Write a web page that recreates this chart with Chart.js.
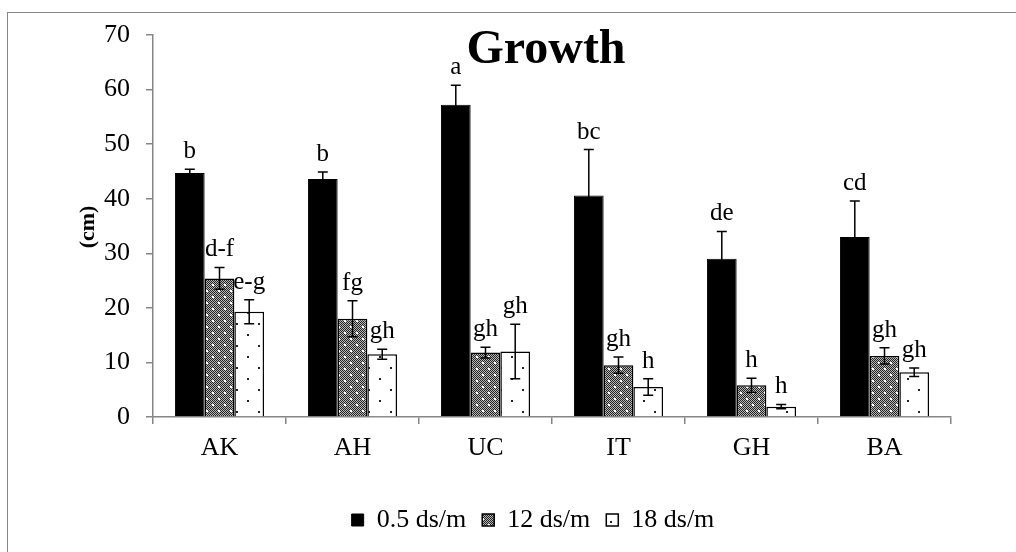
<!DOCTYPE html>
<html><head><meta charset="utf-8">
<script src="https://cdn.jsdelivr.net/npm/chart.js@4.4.1/dist/chart.umd.min.js"></script>
<style>
html,body{margin:0;padding:0;background:#fff;overflow:hidden}
#wrap{position:relative;width:1016px;height:552px;overflow:hidden}
#frame{position:absolute;left:7px;top:12px;width:1030px;height:560px;border:1.5px solid #878787;box-sizing:border-box;pointer-events:none}
canvas{position:absolute;left:0;top:0}
</style></head><body>
<div id="wrap"><canvas id="c" width="1016" height="552"></canvas><div id="frame"></div></div>
<script>
const categories = ['AK','AH','UC','IT','GH','BA'];
const seriesNames = ['0.5 ds/m','12 ds/m','18 ds/m'];
const low = [44.7, 43.6, 57.2, 40.6, 29.0, 33.0];
const mid = [25.4, 18.0, 11.8, 9.5, 5.8, 11.2];
const high = [19.3, 11.5, 12.0, 5.5, 1.9, 8.2];
const lowErr = [0.7, 1.3, 3.6, 8.4, 5.0, 6.6];
const midErr = [2.0, 3.3, 1.0, 1.5, 1.3, 1.5];
const highErr = [2.2, 0.9, 5.0, 1.5, 0.4, 0.8];
const lowLetters = ['b','b','a','bc','de','cd'];
const midLetters = ['d-f','fg','gh','gh','h','gh'];
const highLetters = ['e-g','gh','gh','h','h','gh'];
const yTicks = [0,10,20,30,40,50,60,70];
const titleText = 'Growth';
const yTitle = '(cm)';

const SERIF = '"Liberation Serif","Times New Roman",Times,serif';
const AXIS = '#868686';

function grayPattern(){
  const c = document.createElement('canvas'); c.width = 12; c.height = 12;
  const g = c.getContext('2d');
  for (let y = 0; y < 12; y++) for (let x = 0; x < 12; x++) {
    g.fillStyle = ((x + y) % 2 === 0) ? '#222222' : '#b8b8b8';
    g.fillRect(x, y, 1, 1);
  }
  g.fillStyle = '#ffffff';
  g.fillRect(2, 2, 2, 2); g.fillRect(8, 8, 2, 2);
  return document.getElementById('c').getContext('2d').createPattern(c, 'repeat');
}
function dotPattern(){
  const c = document.createElement('canvas'); c.width = 22; c.height = 22;
  const g = c.getContext('2d');
  g.fillStyle = '#ffffff'; g.fillRect(0, 0, 22, 22);
  g.fillStyle = '#222222';
  g.fillRect(5, 4, 2, 2); g.fillRect(16, 15, 2, 2);
  return document.getElementById('c').getContext('2d').createPattern(c, 'repeat');
}

const errs = [lowErr, midErr, highErr];
const letters = [lowLetters, midLetters, highLetters];

const errorPlugin = {
  id: 'errs',
  afterLayout(chart) {
    const lg = chart.legend;
    if (lg) { lg.left -= 19; lg.right -= 19; lg.top += 23; lg.bottom += 23; }
  },
  afterDatasetsDraw(chart) {
    const ctx = chart.ctx, ys = chart.scales.y;
    ctx.save();
    chart.data.datasets.forEach((ds, i) => {
      const meta = chart.getDatasetMeta(i);
      meta.data.forEach((bar, j) => {
        const v = ds.data[j], e = errs[i][j];
        const yt = ys.getPixelForValue(v + e), yb = ys.getPixelForValue(Math.max(0, v - e));
        ctx.strokeStyle = '#000'; ctx.lineWidth = 1.5;
        ctx.beginPath();
        ctx.moveTo(bar.x, yt); ctx.lineTo(bar.x, yb);
        ctx.moveTo(bar.x - 5, yt); ctx.lineTo(bar.x + 5, yt);
        ctx.moveTo(bar.x - 5, yb); ctx.lineTo(bar.x + 5, yb);
        ctx.stroke();
        ctx.fillStyle = '#000';
        ctx.font = '25px ' + SERIF;
        ctx.textAlign = 'center'; ctx.textBaseline = 'alphabetic';
        ctx.fillText(letters[i][j], bar.x, yt - 11);
      });
    });
    // title
    ctx.font = 'bold 48px ' + SERIF;
    ctx.textAlign = 'center'; ctx.textBaseline = 'alphabetic';
    ctx.fillText(titleText, 546, 63);
    // y title
    ctx.translate(88, 227);
    ctx.rotate(-Math.PI / 2);
    ctx.font = 'bold 22px ' + SERIF;
    ctx.textBaseline = 'middle';
    ctx.fillText(yTitle, 0, 0);
    ctx.restore();
  }
};

new Chart(document.getElementById('c'), {
  type: 'bar',
  data: {
    labels: categories,
    datasets: [
      { label: seriesNames[0], data: low, backgroundColor: '#000', borderColor: '#000', borderWidth: 1 },
      { label: seriesNames[1], data: mid, backgroundColor: grayPattern(), borderColor: '#000', borderWidth: 1.5 },
      { label: seriesNames[2], data: high, backgroundColor: dotPattern(), borderColor: '#000', borderWidth: 1.5 }
    ]
  },
  options: {
    responsive: false,
    animation: false,
    devicePixelRatio: 1,
    layout: { padding: { left: 0, right: 65, top: 35, bottom: 32 } },
    datasets: { bar: { categoryPercentage: 0.67, barPercentage: 1.0 } },
    scales: {
      x: {
        grid: { offset: true, drawOnChartArea: false, drawTicks: true, tickLength: 7, color: AXIS, lineWidth: 1.5 },
        border: { color: AXIS, width: 1.5 },
        ticks: { color: '#000', font: { family: SERIF, size: 26 }, padding: 9, maxRotation: 0 },
        afterFit(s) { s.height = 51; }
      },
      y: {
        min: 0, max: 70,
        afterBuildTicks(s) { s.ticks = yTicks.map(v => ({ value: v })); },
        grid: { drawOnChartArea: false, drawTicks: true, tickLength: 7, color: AXIS, lineWidth: 1.5 },
        border: { color: AXIS, width: 1.5 },
        ticks: { color: '#000', font: { family: SERIF, size: 26 }, padding: 16 },
        afterFit(s) { s.width = 153; }
      }
    },
    plugins: {
      legend: {
        position: 'bottom',
        fullSize: false,
        labels: { color: '#000', font: { family: SERIF, size: 26 }, boxWidth: 12, boxHeight: 12, padding: 16 }
      },
      title: { display: false },
      tooltip: { enabled: false }
    }
  },
  plugins: [errorPlugin]
});
</script>
</body></html>
